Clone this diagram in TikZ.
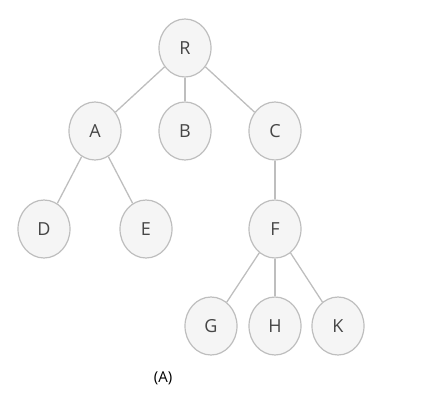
\documentclass[tikz,border=0pt]{standalone}
\usepackage{fontspec}
\setmainfont{Open Sans}
\usepackage{xcolor}
\usetikzlibrary{shapes.geometric}
\definecolor{borda}{RGB}{190,190,190}
\definecolor{fundo}{RGB}{245,245,245}
\definecolor{texto}{RGB}{70,70,70}

\begin{document}
\begin{tikzpicture}[x=1pt, y=-1pt,
      vert/.style={draw=borda, line width=1.2pt, ellipse, fill=fundo,
                   minimum width=52pt, minimum height=58pt, inner sep=0pt,
                   text=texto, font=\fontsize{18}{21}\selectfont},
      aresta/.style={draw=borda, line width=1.3pt}]
    \useasboundingbox (0,0) rectangle (426,400);
    \foreach \n/\x/\y in {R/185/48, A/95/131, B/185/131, C/275/131,
                          D/44/229, E/146/229, F/275/229,
                          G/211/326, H/275/326, K/338/326} {
      \node[vert] (\n) at (\x,\y) {\n};
    }
    % arestas da arvore
    \foreach \a/\b in {R/A, R/B, R/C, A/D, A/E, C/F, F/G, F/H, F/K} {
      \draw[aresta] (\a) -- (\b);
    }
    \node[text=black, font=\fontsize{15}{17}\selectfont] (legenda) at (163,378) {(A)};
  \end{tikzpicture}
\end{document}
